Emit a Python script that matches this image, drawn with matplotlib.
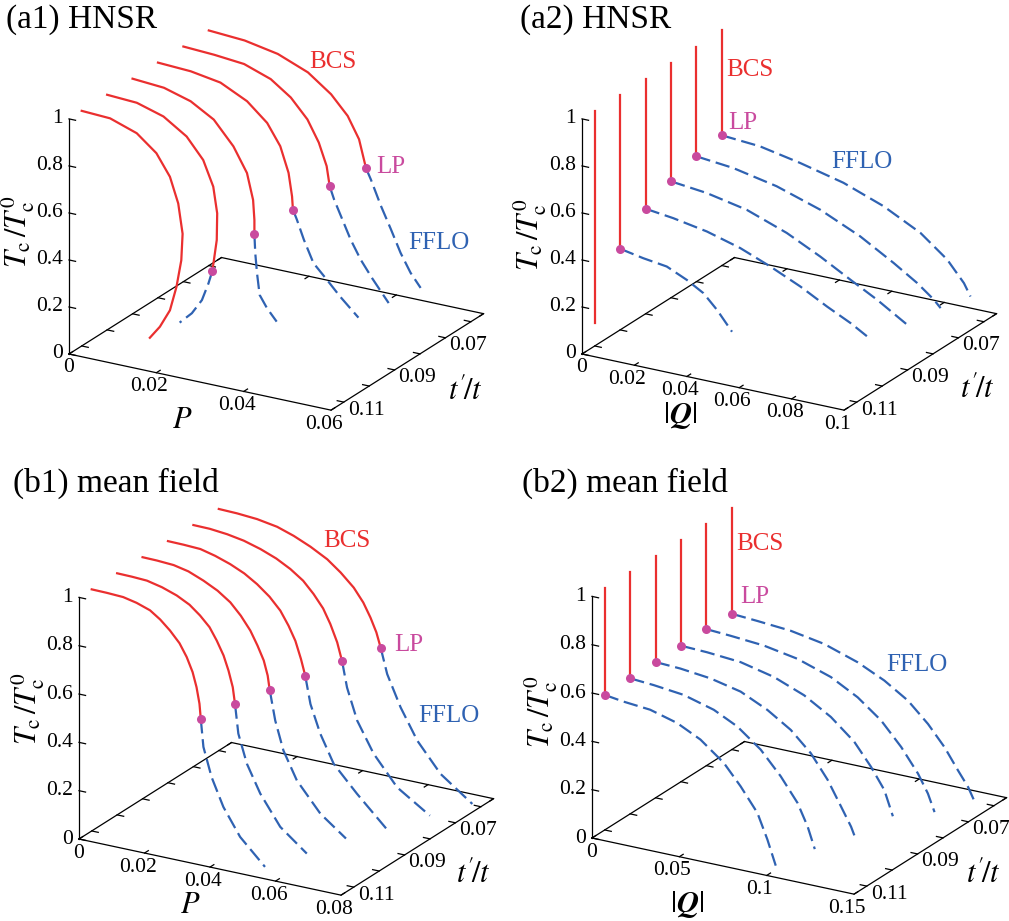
import matplotlib
matplotlib.use('Agg')
import matplotlib.pyplot as plt
import numpy as np
from mpl_toolkits.mplot3d import proj3d

plt.rcParams['font.family'] = ['Liberation Serif', 'DejaVu Serif']
plt.rcParams['mathtext.fontset'] = 'stix'

RED = '#ea2f2f'
BLUE = '#2f62b2'
PINK = '#c94a9e'

W, H = 1009, 921
Y_FRONT, Y_BACK = 0.125, 0.065

tprime = [0.12, 0.11, 0.10, 0.09, 0.08, 0.07]
z_ticks = [0, 0.2, 0.4, 0.6, 0.8, 1]
y_ticks = [0.12, 0.11, 0.10, 0.09, 0.08, 0.07]
y_ticklabels = ['', '0.11', '', '0.09', '', '0.07']

# ---- (a1) HNSR: Tc vs P.  BCS branch down to the Lifshitz point, FFLO below it
a1_bcs_P = [[0, 0.0065, 0.0126, 0.0171, 0.0202, 0.0221, 0.0231, 0.0228, 0.0217, 0.0202, 0.0179, 0.0156],
            [0, 0.0068, 0.0129, 0.0182, 0.0220, 0.0243, 0.0252, 0.0251],
            [0, 0.0072, 0.0133, 0.0186, 0.0231, 0.0262, 0.0276, 0.0279],
            [0, 0.0075, 0.0143, 0.0204, 0.0250, 0.0280, 0.0299, 0.0307],
            [0, 0.0071, 0.0139, 0.0200, 0.0246, 0.0284, 0.0310, 0.0328],
            [0, 0.0082, 0.0158, 0.0227, 0.0280, 0.0318, 0.0344]]
a1_bcs_T = [[1.0, 0.994, 0.955, 0.888, 0.80, 0.694, 0.569, 0.455, 0.338, 0.232, 0.153, 0.097],
            [1.0, 0.993, 0.959, 0.895, 0.81, 0.706, 0.596, 0.482],
            [1.0, 0.99, 0.957, 0.90, 0.804, 0.703, 0.594, 0.51],
            [1.0, 0.993, 0.972, 0.917, 0.843, 0.756, 0.65, 0.553],
            [1.0, 0.993, 0.981, 0.941, 0.881, 0.803, 0.715, 0.622],
            [1.0, 0.99, 0.963, 0.912, 0.84, 0.763, 0.674]]
a1_lp_P = [None, 0.0241, 0.0279, 0.0309, 0.0335, 0.0360]
a1_lp_T = [None, 0.347, 0.449, 0.498, 0.539, 0.557]
a1_fflo_P = [[],
             [0.0232, 0.0217, 0.0194, 0.0166],
             [0.0281, 0.0285, 0.0291, 0.0308, 0.0330],
             [0.0318, 0.0334, 0.0356, 0.0387, 0.0417, 0.0459],
             [0.0345, 0.0364, 0.0383, 0.0406, 0.0432, 0.0470],
             [0.0371, 0.0394, 0.0417, 0.0439, 0.0462, 0.0485]]
a1_fflo_T = [[],
             [0.29, 0.213, 0.148, 0.097],
             [0.369, 0.286, 0.196, 0.146, 0.098],
             [0.459, 0.38, 0.289, 0.23, 0.171, 0.098],
             [0.487, 0.409, 0.331, 0.255, 0.187, 0.096],
             [0.514, 0.411, 0.32, 0.229, 0.153, 0.098]]

# ---- (a2) HNSR: Tc vs |Q|.  BCS at Q = 0
a2_bcs_low = [0.098, None, None, None, None, None]
a2_lp_T = [None, 0.345, 0.447, 0.495, 0.533, 0.554]
a2_fflo_Q = [[],
             [0.0088, 0.0178, 0.0255, 0.0318, 0.0370, 0.0427],
             [0.0106, 0.0234, 0.0361, 0.0476, 0.0591, 0.0693, 0.0783, 0.0859],
             [0.0136, 0.0289, 0.0442, 0.0570, 0.0685, 0.0787, 0.0864, 0.0902],
             [0.0140, 0.0306, 0.0472, 0.0625, 0.0753, 0.0843, 0.0906, 0.0932],
             [0.0145, 0.0298, 0.0464, 0.0617, 0.0758, 0.0860, 0.0924, 0.0949]]
a2_fflo_T = [[],
             [0.326, 0.312, 0.273, 0.232, 0.173, 0.094],
             [0.432, 0.406, 0.366, 0.315, 0.257, 0.196, 0.147, 0.097],
             [0.478, 0.443, 0.381, 0.311, 0.24, 0.179, 0.126, 0.10],
             [0.517, 0.479, 0.419, 0.342, 0.259, 0.195, 0.14, 0.11],
             [0.542, 0.508, 0.463, 0.40, 0.32, 0.231, 0.146, 0.095]]

# ---- (b1) mean field: Tc vs P
b1_bcs_P = [[0, 0.0046, 0.0096, 0.0137, 0.0178, 0.0209, 0.0239, 0.0268, 0.0290, 0.0308, 0.0320, 0.0329],
            [0, 0.0045, 0.0091, 0.0137, 0.0182, 0.0221, 0.0253, 0.0282, 0.0304, 0.0325, 0.0340, 0.0353],
            [0, 0.0044, 0.0095, 0.0140, 0.0186, 0.0229, 0.0268, 0.0300, 0.0329, 0.0351, 0.0370, 0.0382],
            [0, 0.0048, 0.0099, 0.0144, 0.0190, 0.0233, 0.0272, 0.0310, 0.0343, 0.0368, 0.0389, 0.0406],
            [0, 0.0050, 0.0103, 0.0154, 0.0205, 0.0253, 0.0296, 0.0335, 0.0367, 0.0396, 0.0418, 0.0439],
            [0, 0.0056, 0.0117, 0.0178, 0.0229, 0.0280, 0.0331, 0.0372, 0.0412, 0.0441, 0.0463, 0.0481]]
b1_bcs_T = [[1.0, 0.999, 0.996, 0.984, 0.965, 0.936, 0.899, 0.855, 0.804, 0.747, 0.688, 0.622],
            [1.0, 0.999, 0.996, 0.982, 0.961, 0.934, 0.899, 0.859, 0.81, 0.754, 0.696, 0.631],
            [1.0, 0.999, 0.995, 0.982, 0.957, 0.928, 0.891, 0.845, 0.792, 0.736, 0.68, 0.621],
            [1.0, 0.999, 0.996, 0.981, 0.96, 0.934, 0.901, 0.86, 0.812, 0.757, 0.70, 0.63],
            [1.0, 0.999, 0.992, 0.98, 0.96, 0.935, 0.904, 0.867, 0.821, 0.77, 0.712, 0.642],
            [1.0, 0.998, 0.992, 0.978, 0.955, 0.925, 0.888, 0.845, 0.794, 0.741, 0.685, 0.629]]
b1_lp_P = [0.0333, 0.0360, 0.0388, 0.0419, 0.0454, 0.0494]
b1_lp_T = [0.560, 0.562, 0.565, 0.565, 0.568, 0.570]
b1_fflo_P = [[0.0341, 0.0366, 0.0402, 0.0453, 0.0529],
             [0.0370, 0.0396, 0.0437, 0.0498, 0.0579],
             [0.0405, 0.0430, 0.0471, 0.0543, 0.0621],
             [0.0435, 0.0465, 0.0506, 0.0577, 0.0667],
             [0.0469, 0.0500, 0.0550, 0.0622, 0.0722],
             [0.0514, 0.0555, 0.0606, 0.0677, 0.0774]]
b1_fflo_T = [[0.447, 0.329, 0.216, 0.107, 0.005],
             [0.444, 0.327, 0.215, 0.095, 0.008],
             [0.442, 0.325, 0.213, 0.096, 0.016],
             [0.452, 0.338, 0.225, 0.122, 0.003],
             [0.464, 0.336, 0.214, 0.095, 0.007],
             [0.466, 0.34, 0.217, 0.10, 0.004]]

# ---- (b2) mean field: Tc vs |Q|
b2_lp_T = [0.559, 0.561, 0.562, 0.563, 0.565, 0.562]
b2_fflo_Q = [[0.0107, 0.0260, 0.0414, 0.0548, 0.0682, 0.0778, 0.0874, 0.0931, 0.0979],
             [0.0134, 0.0306, 0.0479, 0.0613, 0.0747, 0.0862, 0.0958, 0.1016, 0.1057],
             [0.0142, 0.0314, 0.0487, 0.0640, 0.0774, 0.0889, 0.0985, 0.1062, 0.1119, 0.1144],
             [0.0149, 0.0341, 0.0532, 0.0705, 0.0858, 0.0992, 0.1088, 0.1164, 0.1213],
             [0.0138, 0.0329, 0.0521, 0.0713, 0.0866, 0.1000, 0.1115, 0.1211, 0.1268, 0.1306],
             [0.0146, 0.0337, 0.0529, 0.0720, 0.0873, 0.1008, 0.1123, 0.1218, 0.1295, 0.1353, 0.1387]]
b2_fflo_T = [[0.548, 0.538, 0.507, 0.459, 0.383, 0.301, 0.206, 0.105, 0.004],
             [0.554, 0.54, 0.505, 0.457, 0.382, 0.289, 0.194, 0.105, 0.018],
             [0.557, 0.543, 0.515, 0.463, 0.401, 0.322, 0.227, 0.128, 0.054, 0.01],
             [0.559, 0.548, 0.516, 0.467, 0.401, 0.319, 0.23, 0.146, 0.045],
             [0.559, 0.548, 0.523, 0.477, 0.417, 0.342, 0.25, 0.155, 0.081, 0.01],
             [0.555, 0.544, 0.519, 0.473, 0.421, 0.359, 0.28, 0.198, 0.114, 0.054, 0.004]]

fig = plt.figure(figsize=(W / 100, H / 100), dpi=100)
fig.patch.set_facecolor('white')


def to_px(ax, x, y, z):
    xs, ys, _ = proj3d.proj_transform(np.array([x], float), np.array([y], float),
                                      np.array([z], float), ax.get_proj())
    return ax.transData.transform((xs[0], ys[0]))


def ftext(x, y, s, **kw):
    # x, y in pixels from the top-left corner of the image
    fig.text(x / W, 1 - y / H, s, **kw)


def make_panel(xmax, zasp):
    ax = fig.add_axes([0.1, 0.1, 0.4, 0.4], projection='3d', computed_zorder=False)
    ax.set_proj_type('ortho')
    ax.set_xlim(0, xmax)
    ax.set_ylim(Y_FRONT, Y_BACK)
    ax.set_zlim(0, 1)
    ax.set_box_aspect((1, 1, zasp))
    ax.view_init(elev=21.6, azim=-59.8)
    ax.set_axis_off()
    return ax


def place(ax, xmax, origin, edge_len=268.0):
    ax.apply_aspect()
    o = to_px(ax, 0, Y_FRONT, 0)
    f = to_px(ax, xmax, Y_FRONT, 0)
    s = edge_len / np.hypot(*(f - o))
    pos = ax.get_position(original=True)
    cx, cy = (pos.x0 + pos.width / 2) * W, (pos.y0 + pos.height / 2) * H
    tx, ty = origin[0], H - origin[1]
    ncx, ncy = tx - s * (o[0] - cx), ty - s * (o[1] - cy)
    nw, nh = pos.width * s, pos.height * s
    ax.set_position([ncx / W - nw / 2, ncy / H - nh / 2, nw, nh])
    ax.apply_aspect()


def draw_frame(ax, xmax, xticks):
    kw = dict(color='k', lw=0.9, zorder=1, clip_on=False)
    ax.plot([0, xmax, xmax, 0, 0], [Y_FRONT, Y_FRONT, Y_BACK, Y_BACK, Y_FRONT], [0] * 5, **kw)
    ax.plot([0, 0], [Y_FRONT, Y_FRONT], [0, 1], **kw)
    dx = 0.025 * xmax
    dy = 0.025 * (Y_FRONT - Y_BACK)
    for xv in xticks:
        ax.plot([xv, xv], [Y_FRONT, Y_FRONT - dy], [0, 0], **kw)
        ax.plot([xv, xv], [Y_BACK, Y_BACK + dy], [0, 0], **kw)
    for yv in y_ticks:
        ax.plot([0, dx], [yv, yv], [0, 0], **kw)
        ax.plot([xmax, xmax - dx], [yv, yv], [0, 0], **kw)
    for zv in z_ticks:
        ax.plot([0, dx], [Y_FRONT, Y_FRONT], [zv, zv], **kw)


def draw_labels(ax, xmax, xticks, xticklabels):
    tk = dict(fontsize=15.5, ha='center', va='center')
    for zv in z_ticks:
        p = to_px(ax, 0, Y_FRONT, zv)
        fig.text((p[0] - 6) / W, p[1] / H, f'{zv:g}', fontsize=15.5, ha='right', va='center')
    for xv, lab in zip(xticks, xticklabels):
        p = to_px(ax, xv, Y_FRONT, 0)
        off = 0 if xv == 0 else -7
        fig.text((p[0] + off) / W, (p[1] - 14) / H, lab, **tk)
    for yv, lab in zip(y_ticks, y_ticklabels):
        if lab:
            p = to_px(ax, xmax, yv, 0)
            fig.text((p[0] - 3) / W, (p[1] - 24) / H, lab, **tk)


def curves_P(ax, bP, bT, lpP, lpT, fP, fT):
    for i in range(len(tprime)):
        y = tprime[i]
        xs, zs = list(bP[i]), list(bT[i])
        if lpP[i] is not None:
            xs.append(lpP[i])
            zs.append(lpT[i])
        ax.plot(xs, [y] * len(xs), zs, color=RED, lw=1.6, zorder=2, clip_on=False)
        if lpP[i] is not None:
            xf = [lpP[i]] + list(fP[i])
            zf = [lpT[i]] + list(fT[i])
            ax.plot(xf, [y] * len(xf), zf, color=BLUE, lw=1.6, dashes=(6.5, 2.6),
                    zorder=2, clip_on=False)
            ax.plot([lpP[i]], [y], [lpT[i]], 'o', color=PINK, ms=6.5, mec='none',
                    zorder=4, clip_on=False)


def curves_Q(ax, bcs_low, lpT, fQ, fT):
    for i in range(len(tprime)):
        y = tprime[i]
        low = lpT[i] if lpT[i] is not None else bcs_low[i]
        ax.plot([0, 0], [y, y], [1.0, low], color=RED, lw=1.6, zorder=2, clip_on=False)
        if lpT[i] is not None:
            xf = [0] + list(fQ[i])
            zf = [lpT[i]] + list(fT[i])
            ax.plot(xf, [y] * len(xf), zf, color=BLUE, lw=1.6, dashes=(6.5, 2.6),
                    zorder=2, clip_on=False)
            ax.plot([0], [y], [lpT[i]], 'o', color=PINK, ms=6.5, mec='none',
                    zorder=4, clip_on=False)


panels = [
    # xmax, z aspect, origin px, x ticks, x tick labels
    dict(xmax=0.06, zasp=0.834, origin=(69, 354), xt=[0, 0.02, 0.04, 0.06],
         xl=['0', '0.02', '0.04', '0.06']),
    dict(xmax=0.1, zasp=0.834, origin=(582, 354), xt=[0, 0.02, 0.04, 0.06, 0.08, 0.1],
         xl=['0', '0.02', '0.04', '0.06', '0.08', '0.1']),
    dict(xmax=0.08, zasp=0.857, origin=(79, 839), xt=[0, 0.02, 0.04, 0.06, 0.08],
         xl=['0', '0.02', '0.04', '0.06', '0.08']),
    dict(xmax=0.15, zasp=0.857, origin=(592, 838), xt=[0, 0.05, 0.1, 0.15],
         xl=['0', '0.05', '0.1', '0.15']),
]

axes = []
for pd in panels:
    ax = make_panel(pd['xmax'], pd['zasp'])
    place(ax, pd['xmax'], pd['origin'])
    draw_frame(ax, pd['xmax'], pd['xt'])
    draw_labels(ax, pd['xmax'], pd['xt'], pd['xl'])
    axes.append(ax)

curves_P(axes[0], a1_bcs_P, a1_bcs_T, a1_lp_P, a1_lp_T, a1_fflo_P, a1_fflo_T)
curves_Q(axes[1], a2_bcs_low, a2_lp_T, a2_fflo_Q, a2_fflo_T)
curves_P(axes[2], b1_bcs_P, b1_bcs_T, b1_lp_P, b1_lp_T, b1_fflo_P, b1_fflo_T)
curves_Q(axes[3], [None] * 6, b2_lp_T, b2_fflo_Q, b2_fflo_T)

# titles
ftext(6, 28, '(a1) HNSR', fontsize=24, ha='left', va='baseline')
ftext(520, 28, '(a2) HNSR', fontsize=24, ha='left', va='baseline')
ftext(13, 492, '(b1) mean field', fontsize=24, ha='left', va='baseline')
ftext(522, 492, '(b2) mean field', fontsize=24, ha='left', va='baseline')

# axis labels
tc_label = r'$T_{\mathrm{c}}\,/T_{\mathrm{c}}^{0}$'
tt_label = r"$t^{\prime}\!/t$"
q_label = r'$|\mathbfit{Q}|$'
lab = dict(fontsize=22, ha='center', va='center')
for (x, y) in [(18, 232), (530, 235), (28, 709), (541, 712)]:
    ftext(x, y, tc_label, rotation=90, **lab)
for (x, y) in [(465, 392), (977, 390), (473, 875), (983, 875)]:
    ftext(x, y, tt_label, **lab)
ftext(182, 420, r'$P$', **lab)
ftext(190, 905, r'$P$', **lab)
ftext(680, 415, q_label, **lab)
ftext(687, 904, q_label, **lab)

# phase annotations
ann = dict(fontsize=18, ha='center', va='center')
for (bx, by), (lx, ly), (fx, fy) in [((333, 62), (391, 167), (439, 243)),
                                      ((750, 70), (743, 123), (862, 162)),
                                      ((347, 541), (409, 645), (449, 716)),
                                      ((760, 544), (755, 597), (917, 665))]:
    ftext(bx, by, 'BCS', color=RED, **ann)
    ftext(lx, ly, 'LP', color=PINK, **ann)
    ftext(fx, fy, 'FFLO', color=BLUE, **ann)

fig.savefig('out.png', dpi=100, facecolor='white')
